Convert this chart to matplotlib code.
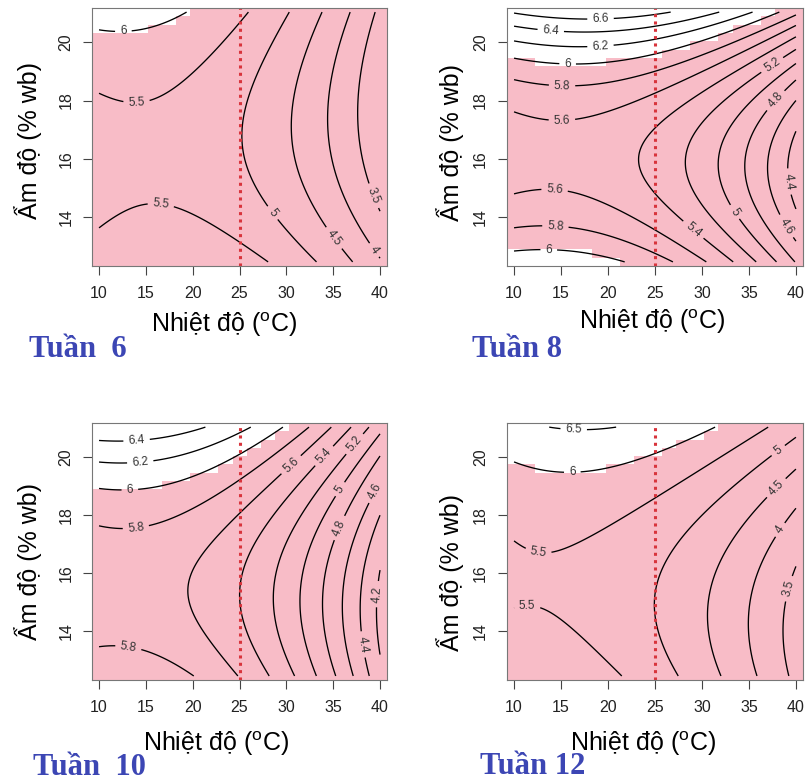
import numpy as np
import matplotlib
matplotlib.use('Agg')
import matplotlib.pyplot as plt
from matplotlib.colors import ListedColormap

plt.rcParams['font.family'] = ['Liberation Sans', 'DejaVu Sans']
plt.rcParams['mathtext.fontset'] = 'custom'
plt.rcParams['mathtext.rm'] = 'Liberation Sans'

# Đường đồng mức đọc theo từng tuần: (mức, nhiệt độ, ẩm độ)
week6_traces = [
    (6.0, [10, 12.6, 15, 17.5, 19.3], [20.42, 20.38, 20.45, 20.7, 21.03]),
    (5.5, [10, 14, 15.8, 20.75, 22.9, 25, 25.9], [18.28, 18.0, 18.07, 18.97, 19.94, 20.69, 21.03]),
    (5.5, [10, 14.7, 16.6, 18.3, 22.5, 25, 27.7], [13.62, 14.54, 14.44, 14.42, 13.56, 13.2, 12.47]),
    (5.0, [30.3, 28.2, 26.2, 25.2, 25.5, 26.4, 28.2, 29.4, 33.2],
          [21.03, 19.6, 18.33, 17.07, 16.2, 15.57, 14.42, 13.85, 12.47]),
    (4.5, [33.7, 32.1, 30.9, 30.4, 30.7, 32.1, 34.4, 37.05],
          [21.03, 19.6, 18.5, 16.95, 16.15, 14.88, 13.68, 12.47]),
    (4.0, [36.7, 35.5, 34.6, 34.4, 35.1, 36.5, 38.8], [21.03, 19.6, 18.5, 16.95, 15.57, 14.5, 13.16]),
    (3.5, [39.5, 38.5, 37.6, 37.8, 38.8], [21.03, 19.6, 17.53, 16.15, 15.23]),
]
week6_extra = [(10, 16.0, 5.32), (16, 16.2, 5.36), (20, 16.5, 5.26)]
week6_levels = [3.5, 4, 4.5, 5, 5.5, 6]
week6_labels = [(12.6, 20.38), (14.0, 18.0), (16.6, 14.44), (28.5, 14.14),
                (35.3, 13.34), (39.4, 12.88), (39.2, 14.72)]

week8_traces = [
    (6.6, [10, 15, 20.6, 25, 29.4], [21.0, 20.86, 20.92, 21.0, 21.07]),
    (6.4, [10, 13.9, 15.7, 22.7, 28, 33.2], [20.52, 20.37, 20.34, 20.5, 20.75, 21.07]),
    (6.2, [10, 15, 21, 28.7, 36.2], [20.02, 19.86, 19.94, 20.46, 21.07]),
    (6.0, [10, 15.7, 20, 25.2, 32, 37.5], [19.43, 19.2, 19.3, 19.66, 20.25, 20.9]),
    (6.0, [10, 13.7, 19, 22.4], [12.9, 12.93, 12.75, 12.4]),
    (5.8, [10, 15.1, 20, 24.8, 32, 37.5, 40], [18.71, 18.41, 18.55, 18.99, 19.8, 20.55, 21.0]),
    (5.8, [10, 14.4, 19.9, 26.8], [13.59, 13.68, 13.45, 12.47]),
    (5.6, [10, 15.1, 20, 24.8, 32, 37.5, 40], [17.64, 17.24, 17.45, 18.05, 19.2, 20.15, 20.55]),
    (5.6, [10, 14.3, 18, 22.7, 30.3], [14.62, 14.85, 14.7, 14.02, 12.47]),
    (5.4, [40, 37.5, 30, 25.2, 23.4, 24.6, 29.05, 34],
          [20.15, 19.75, 18.2, 17.1, 15.9, 14.8, 13.56, 12.47]),
    (5.2, [40, 37.3, 30.5, 28.2, 30, 35.6], [19.75, 19.3, 17.6, 15.9, 14.2, 12.47]),
    (5.0, [39.7, 37.5, 33.2, 31.7, 33.3, 37.85], [19.3, 18.7, 17.3, 15.9, 14.1, 12.47]),
    (4.8, [39.8, 37.7, 35.2, 34.5, 35.75, 40], [18.85, 18.05, 16.9, 15.9, 14.3, 12.47]),
    (4.6, [40, 38.5, 37.1, 38.9, 40], [17.9, 17.0, 15.9, 13.7, 13.0]),
    (4.4, [40, 39.6, 39.8], [16.8, 15.9, 14.9]),
]
week8_extra = [(10, 16.1, 5.49), (15, 16.05, 5.53), (20, 16.0, 5.48)]
week8_levels = [4.4, 4.6, 4.8, 5.0, 5.2, 5.4, 5.6, 5.8, 6.0, 6.2, 6.4, 6.6]
week8_labels = [(19.2, 20.84), (13.9, 20.37), (19.2, 19.85), (15.7, 19.2), (15.1, 18.41),
                (15.1, 17.24), (14.3, 14.85), (14.4, 13.68), (13.7, 12.93), (29.05, 13.56),
                (33.3, 14.14), (38.9, 13.68), (39.4, 15.23), (37.3, 19.3), (37.7, 18.04)]

week10_traces = [
    (6.4, [10, 14, 15.8, 21.6], [20.65, 20.62, 20.62, 20.99]),
    (6.2, [10, 14.4, 16.1, 20.7, 23.5, 26.4], [19.87, 19.83, 19.85, 20.25, 20.65, 21.1]),
    (6.0, [10, 13.3, 18, 24.3, 29.8], [18.94, 18.79, 18.95, 19.68, 21.1]),
    (5.8, [10, 14, 20.7, 25, 32.8], [17.57, 17.39, 18.19, 19.1, 21.1]),
    (5.8, [10, 14.7, 17.5, 19.9], [13.42, 13.4, 13.0, 12.54]),
    (5.6, [35.1, 30.5, 24.3, 21.1, 19.15, 20.0, 22.2, 24.6],
          [21.1, 19.74, 18.2, 17.17, 15.45, 14.19, 13.4, 12.48]),
    (5.4, [37.4, 33.9, 30.0, 26.4, 25.0, 25.5, 28.0], [21.1, 20.08, 18.6, 17.1, 15.5, 14.02, 12.6]),
    (5.2, [39.2, 37.4, 33.0, 30.0, 28.5, 29.2, 30.9], [21.1, 20.42, 19.0, 17.3, 15.5, 14.0, 12.65]),
    (5.0, [40, 38.5, 35.8, 32.8, 31.4, 32.0, 33.2], [21.0, 20.4, 18.88, 17.3, 15.5, 14.0, 12.65]),
    (4.8, [40, 38, 35.6, 33.9, 34.4, 35.1], [19.8, 18.9, 17.57, 15.5, 14.0, 12.65]),
    (4.6, [39.5, 37.5, 36.0, 36.4, 37.1], [18.82, 17.3, 15.5, 14.0, 12.65]),
    (4.4, [40, 39, 37.9, 38.2, 38.5, 38.6], [17.8, 17.0, 15.5, 14.5, 13.57, 12.65]),
    (4.2, [40, 39.8, 39.7, 39.8, 39.6], [16.6, 16.2, 15.3, 14.25, 12.65]),
]
week10_extra = [(10, 15.5, 5.69), (15, 15.5, 5.68)]
week10_levels = [4.2, 4.4, 4.6, 4.8, 5.0, 5.2, 5.4, 5.6, 5.8, 6.0, 6.2, 6.4]
week10_labels = [(14.0, 20.62), (14.4, 19.83), (13.3, 18.79), (14.0, 17.39), (13.1, 13.39),
                 (30.5, 19.74), (33.9, 20.08), (37.4, 20.42), (35.8, 18.88), (39.5, 18.82),
                 (35.6, 17.57), (39.9, 15.28), (38.5, 13.57)]

week12_traces = [
    (6.5, [12.5, 14.2, 17.8, 19.9, 21.5], [21.1, 20.99, 20.94, 20.99, 21.1]),
    (6.0, [10, 13.2, 17.8, 22.7, 28.7, 31.0], [19.79, 19.57, 19.57, 19.85, 20.54, 21.0]),
    (5.5, [10, 12.65, 14.6, 20.6, 24.8, 30, 36.9], [17.05, 16.88, 16.75, 17.74, 18.6, 19.63, 21.0]),
    (5.5, [10, 11.4, 13.2, 17.8, 21.3], [14.9, 14.86, 14.74, 13.74, 12.54]),
    (5.0, [40, 38.06, 36.8, 33.3, 30.5, 26.2, 24.9, 25.3, 26.3, 27.3],
          [20.65, 20.25, 20.02, 19.0, 17.5, 16.6, 15.0, 14.0, 13.4, 12.48]),
    (4.5, [40, 37.9, 36.8, 32.2, 30.65, 31.0, 31.9], [19.45, 18.94, 18.54, 16.7, 14.42, 13.4, 12.48]),
    (4.0, [40, 38.3, 36.1, 34.9, 35.0, 35.8], [18.25, 17.5, 16.7, 14.42, 13.4, 12.48]),
    (3.5, [40, 39.2, 39.0, 39.0, 39.2], [16.5, 15.45, 14.65, 13.5, 12.48]),
]
week12_extra = [(10, 15.9, 5.45), (15, 15.8, 5.42), (20, 15.5, 5.3)]
week12_levels = [3.5, 4, 4.5, 5, 5.5, 6, 6.5]
week12_labels = [(16.35, 20.96), (16.2, 19.53), (12.65, 16.88), (11.4, 14.86),
                 (38.06, 20.25), (37.9, 18.94), (38.3, 17.5), (39.5, 15.45)]

titles = ['Tuần  6', 'Tuần 8', 'Tuần  10', 'Tuần 12']

PINK = '#f8bcc7'
TEMP_X = np.linspace(10, 40, 21)        # tâm ô ảnh nền
HUM_Y = np.linspace(12.47, 21.03, 31)


def terms(T, H):
    t = (np.asarray(T, float) - 25) / 15
    h = (np.asarray(H, float) - 16.75) / 4.3
    return np.stack([np.ones_like(t), t, h, t * t, t * h, h * h,
                     t ** 3, t * t * h, t * h * h, h ** 3], axis=-1)


def fit_surface(traces, extra):
    T, H, Z = [], [], []
    for level, ts, hs in traces:
        T += ts
        H += hs
        Z += [level] * len(ts)
    for t, h, z in extra:
        T.append(t)
        H.append(h)
        Z.append(z)
    coef, *_ = np.linalg.lstsq(terms(T, H), np.array(Z), rcond=None)
    return lambda tt, hh: terms(tt, hh) @ coef


def edges(c):
    d = c[1] - c[0]
    return np.concatenate([c - d / 2, [c[-1] + d / 2]])


def draw_panel(ax, traces, extra, levels, label_pos):
    f = fit_surface(traces, extra)

    # nền hồng cho vùng dưới 6
    cx, cy = np.meshgrid(TEMP_X, HUM_Y)
    below = (f(cx, cy) < 6).astype(float)
    ax.pcolormesh(edges(TEMP_X), edges(HUM_Y), below,
                  cmap=ListedColormap(['white', PINK]), vmin=0, vmax=1)

    gx, gy = np.meshgrid(np.linspace(10, 40, 200), np.linspace(12.47, 21.03, 200))
    cs = ax.contour(gx, gy, f(gx, gy), levels=levels, colors='black', linewidths=0.95)
    ax.clabel(cs, manual=label_pos, inline=True, inline_spacing=5,
              fontsize=8.5, colors='#333333', fmt=lambda v: f'{v:g}')

    ax.axvline(25, color='#d8343c', lw=2.2, linestyle=(0, (1.0, 1.4)))

    ax.set_xlim(9.25, 40.75)
    ax.set_ylim(12.33, 21.17)
    ax.set_xticks([10, 15, 20, 25, 30, 35, 40])
    ax.set_yticks([14, 16, 18, 20])
    ax.tick_params(direction='out', length=6.5, width=0.8, color='#444444',
                   labelsize=11.5, labelcolor='#222222')
    ax.tick_params(axis='x', pad=8)
    ax.tick_params(axis='y', pad=7, labelrotation=90)
    for lab in ax.get_yticklabels():
        lab.set_va('center')
    for sp in ax.spines.values():
        sp.set_color('#777777')
        sp.set_linewidth(0.8)

    ax.set_xlabel('Nhiệt độ ($^{\\rm o}$C)', fontsize=18)
    ax.set_ylabel('Ẩm độ (% wb)', fontsize=18)
    ax.xaxis.label.set_va('center')
    ax.yaxis.label.set_va('center')


fig = plt.figure(figsize=(8.05, 7.83), dpi=100)

rects = [[0.1143, 0.6603, 0.3665, 0.3295], [0.6298, 0.6603, 0.3677, 0.3295],
         [0.1143, 0.1315, 0.3665, 0.3282], [0.6298, 0.1315, 0.3677, 0.3282]]
xlab_pos = [(0.447, -0.229), (0.49, -0.217), (0.42, -0.249), (0.46, -0.249)]
ylab_pos = [(-0.217, 0.488), (-0.193, 0.477), (-0.217, 0.46), (-0.193, 0.42)]
# vị trí đường chân chữ của nhãn tuần (pixel)
title_pos = [(29, 357), (472, 357), (33, 775), (480, 774)]

data = [(week6_traces, week6_extra, week6_levels, week6_labels),
        (week8_traces, week8_extra, week8_levels, week8_labels),
        (week10_traces, week10_extra, week10_levels, week10_labels),
        (week12_traces, week12_extra, week12_levels, week12_labels)]

for i, (tr, ex, lv, lp) in enumerate(data):
    ax = fig.add_axes(rects[i])
    draw_panel(ax, tr, ex, lv, lp)
    ax.xaxis.set_label_coords(*xlab_pos[i])
    ax.yaxis.set_label_coords(*ylab_pos[i])
    px, py = title_pos[i]
    fig.text(px / 805, 1 - py / 783, titles[i], ha='left', va='baseline',
             fontsize=22, fontweight='bold', color='#3c46b4',
             family=['Liberation Serif', 'DejaVu Serif'])

fig.savefig('out.png', dpi=100)
